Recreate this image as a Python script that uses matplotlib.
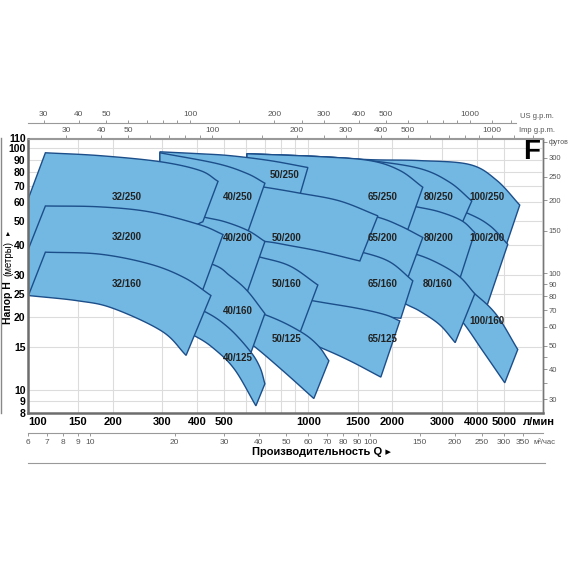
import numpy as np
import matplotlib
matplotlib.use("Agg")
import matplotlib.pyplot as plt
from matplotlib.ticker import NullLocator, NullFormatter
from matplotlib.lines import Line2D

plt.rcParams['font.family'] = ['Liberation Sans Narrow', 'Liberation Sans', 'DejaVu Sans']

# pump fields: top = max impeller, bottom = min impeller, points (Q l/min, H m)
t100_250 = [(604, 95.1), (1100, 92.5), (1660, 89.9), (2504, 89.1), (3777, 85.8), (4716, 73.8), (5699, 58.3)]
b100_250 = [(604, 67.2), (1802, 64.1), (2719, 61.2), (3685, 52.6), (4453, 46.6), (5079, 39.3)]
t100_200 = [(1194, 67.2), (2504, 64.1), (3685, 54.1), (4453, 47.9), (5164, 40.1)]
b100_200 = [(1194, 33.2), (2951, 28.8), (3936, 24.3), (4345, 22.2)]
t100_160 = [(2504, 34.2), (3204, 29.9), (3936, 25.0), (4716, 20.4), (5606, 14.7)]
b100_160 = [(2504, 26.3), (2951, 23.9), (3536, 19.3), (4204, 14.5), (5037, 10.7)]

t80_250 = [(604, 95.1), (1100, 92.5), (1660, 89.1), (2504, 82.6), (3204, 72.4), (3840, 60.6)]
b80_250 = [(604, 67.2), (1408, 58.3), (2443, 54.6), (2951, 52.6), (3536, 48.8)]
t80_200 = [(933, 65.9), (1802, 61.2), (2443, 57.3), (2951, 54.6), (3536, 50.2), (3936, 44.9)]
b80_200 = [(933, 42.0), (1802, 38.2), (2403, 34.8), (2951, 31.7), (3478, 28.8)]
t80_160 = [(933, 42.0), (1802, 39.6), (2423, 36.5), (2951, 33.2), (3478, 29.4), (3936, 25.0)]
b80_160 = [(933, 30.2), (1802, 26.3), (2213, 22.8), (2504, 21.2), (2951, 18.6), (3350, 15.7)]

t65_250 = [(604, 95.1), (1100, 92.5), (1660, 89.1), (2124, 81.1), (2566, 69.1)]
b65_250 = [(604, 58.3), (933, 54.6), (1802, 50.2), (2268, 46.1)]
t65_200 = [(604, 67.2), (1194, 58.3), (1758, 52.1), (2124, 47.9), (2566, 42.8)]
b65_200 = [(604, 38.2), (1194, 35.8), (1802, 34.2), (2268, 29.1)]
t65_160 = [(604, 42.8), (1194, 39.6), (1554, 37.2), (1956, 33.9), (2364, 28.3)]
b65_160 = [(604, 23.9), (1039, 22.2), (1660, 20.4), (2142, 19.8)]
t65_125 = [(604, 26.3), (1039, 23.4), (1492, 21.8), (1878, 20.5), (2124, 19.3)]
b65_125 = [(604, 19.4), (792, 17.5), (1118, 14.9), (1408, 13.2), (1817, 11.3)]

t50_250 = [(295, 96.9), (410, 95.1), (525, 93.4), (729, 89.1), (997, 83.4)]
b50_250 = [(295, 73.8), (700, 67.2), (933, 64.1)]
t50_200 = [(320, 77.4), (525, 72.4), (700, 69.1), (933, 65.3), (1297, 60.6), (1773, 52.6)]
b50_200 = [(320, 43.6), (525, 42.0), (700, 41.2), (860, 39.6), (1100, 37.5), (1529, 34.2)]
t50_160 = [(348, 42.0), (525, 38.2), (672, 35.5), (860, 32.6), (1082, 27.2)]
b50_160 = [(348, 26.3), (700, 19.8), (933, 17.2)]
t50_125 = [(410, 25.0), (700, 20.5), (933, 17.5), (1082, 15.3), (1185, 13.2)]
b50_125 = [(410, 18.9), (525, 17.7), (634, 15.3), (812, 12.0), (1047, 9.21)]

t40_250 = [(295, 96.0), (472, 86.6), (604, 78.8), (700, 71.8)]
b40_250 = [(295, 54.6), (420, 50.7), (504, 48.3), (609, 45.3)]
t40_200 = [(295, 57.3), (420, 52.1), (504, 49.7), (609, 45.7), (700, 41.2)]
b40_200 = [(295, 35.5), (452, 32.3), (525, 28.5), (604, 25.3)]
t40_160 = [(295, 37.5), (452, 33.2), (525, 29.7), (604, 25.8), (700, 20.7)]
b40_160 = [(295, 23.9), (420, 20.5), (525, 17.3), (619, 13.9)]
t40_125 = [(295, 25.0), (420, 21.3), (516, 18.2), (619, 14.5), (672, 12.4), (700, 10.6)]
b40_125 = [(295, 19.4), (394, 16.7), (464, 14.7), (547, 12.1), (650, 8.59)]

t32_250 = [(115, 96.0), (180, 93.4), (295, 88.2), (410, 81.1), (476, 73.1)]
b32_250 = [(82.5, 34.2), (100, 34.2), (180, 44.0), (272, 47.9), (378, 47.9), (420, 49.7)]
t32_200 = [(115, 57.8), (180, 57.3), (272, 54.6), (410, 48.3), (496, 44.0)]
b32_200 = [(82.5, 21.8), (100, 24.6), (115, 29.4), (180, 33.9), (272, 31.7), (362, 28.0), (420, 26.0)]
t32_160 = [(115, 37.2), (180, 36.5), (272, 33.2), (362, 29.1), (449, 24.6)]
b32_160 = [(100, 24.6), (150, 23.4), (200, 21.8), (300, 17.5), (366, 13.9)]

# label positions (Q, H)
lab_pos = {
    "32/250": (225, 62.9), "32/200": (225, 42.8), "32/160": (225, 27.5),
    "40/250": (561, 62.9), "40/200": (561, 42.4), "40/160": (561, 21.2), "40/125": (561, 13.6),
    "50/250": (825, 77.4), "50/200": (839, 42.4), "50/160": (839, 27.5), "50/125": (839, 16.3),
    "65/250": (1847, 62.9), "65/200": (1847, 42.4), "65/160": (1847, 27.5), "65/125": (1847, 16.3),
    "80/250": (2927, 62.9), "80/200": (2927, 42.4), "80/160": (2900, 27.5),
    "100/250": (4345, 62.9), "100/200": (4345, 42.4), "100/160": (4345, 19.3),
}

order = [
    ("100/250", t100_250, b100_250), ("100/200", t100_200, b100_200), ("100/160", t100_160, b100_160),
    ("80/250", t80_250, b80_250), ("80/200", t80_200, b80_200), ("80/160", t80_160, b80_160),
    ("65/250", t65_250, b65_250), ("65/200", t65_200, b65_200), ("65/160", t65_160, b65_160), ("65/125", t65_125, b65_125),
    ("50/250", t50_250, b50_250), ("50/200", t50_200, b50_200), ("50/160", t50_160, b50_160), ("50/125", t50_125, b50_125),
    ("40/250", t40_250, b40_250), ("40/200", t40_200, b40_200), ("40/160", t40_160, b40_160), ("40/125", t40_125, b40_125),
    ("32/250", t32_250, b32_250), ("32/200", t32_200, b32_200), ("32/160", t32_160, b32_160),
]

x_ticks = [100, 150, 200, 300, 400, 500, 1000, 1500, 2000, 3000, 4000, 5000]
x_grid = [150, 200, 300, 400, 500, 600, 700, 800, 900, 1000, 1500, 2000, 3000, 4000, 5000]
y_ticks = [8, 9, 10, 15, 20, 25, 30, 40, 50, 60, 70, 80, 90, 100, 110]
y_grid = [9, 10, 15, 20, 25, 30, 40, 50, 60, 70, 80, 90, 100]
m3_ticks = [6, 7, 8, 9, 10, 20, 30, 40, 50, 60, 70, 80, 90, 100, 150, 200, 250, 300, 350]
gpm_major = [30, 40, 50, 100, 200, 300, 400, 500, 1000]
gpm_minor = [60, 70, 80, 90, 150, 250, 600, 700, 800, 900, 1200, 1400]
ft_major = [30, 40, 50, 60, 70, 80, 90, 100, 150, 200, 250, 300, 350]
ft_labels = ["30", "40", "50", "60", "70", "80", "90", "100", "150", "200", "250", "300", "футов"]
ft_minor = [35, 45]

FILL = '#72b8e2'
EDGE = '#1c4e8a'


def smooth(pts, n=16):
    p = np.log10(np.asarray(pts, float))
    if len(p) < 3:
        return 10 ** p
    ext = np.vstack([2 * p[0] - p[1], p, 2 * p[-1] - p[-2]])
    t = np.linspace(0, 1, n, endpoint=False)[:, None]
    out = []
    for i in range(len(p) - 1):
        p0, p1, p2, p3 = ext[i], ext[i + 1], ext[i + 2], ext[i + 3]
        seg = 0.5 * (2 * p1 + (-p0 + p2) * t + (2 * p0 - 5 * p1 + 4 * p2 - p3) * t ** 2
                     + (-p0 + 3 * p1 - 3 * p2 + p3) * t ** 3)
        out.append(seg)
    out.append(p[-1][None, :])
    return 10 ** np.vstack(out)


W = 570.0
fig = plt.figure(figsize=(5.7, 5.7), dpi=100)
ax = fig.add_axes([28.4 / W, (W - 413.3) / W, 514.6 / W, 274.8 / W])
ax.set_xscale('log')
ax.set_yscale('log')
ax.set_xlim(100, 6900)
ax.set_ylim(8, 110)

for q in x_grid:
    ax.axvline(q, color='#dcdcdc', lw=0.8, zorder=0.5)
for h in y_grid:
    ax.axhline(h, color='#dcdcdc', lw=0.8, zorder=0.5)

for z, (name, top, bot) in enumerate(order):
    tp = smooth(top)
    bt = smooth(bot)
    poly = np.vstack([tp, bt[::-1]])
    ax.fill(poly[:, 0], poly[:, 1], facecolor=FILL, edgecolor=EDGE, lw=1.0, zorder=2 + z * 0.01)

for name, (q, h) in lab_pos.items():
    ax.text(q, h, name, ha='center', va='center', fontsize=7, fontweight='bold', color='#222222', zorder=5)

ax.text(0.977, 0.95, "F", transform=ax.transAxes, fontsize=20, fontweight='bold',
        family=['Liberation Sans', 'DejaVu Sans'], ha='center', va='center', zorder=5)

# main axes ticks
ax.xaxis.set_minor_locator(NullLocator())
ax.yaxis.set_minor_locator(NullLocator())
ax.set_xticks(x_ticks, labels=[str(v) for v in x_ticks])
ax.set_yticks(y_ticks, labels=[str(v) for v in y_ticks])
ax.tick_params(axis='both', length=0)
ax.tick_params(axis='x', pad=3, labelsize=8)
ax.tick_params(axis='y', pad=2, labelsize=7.5)
for lab in ax.get_xticklabels() + ax.get_yticklabels():
    lab.set_fontweight('bold')
ax.get_xticklabels()[0].set_horizontalalignment('left')

ax.spines['left'].set(color='#6d6d6d', lw=1.8)
ax.spines['bottom'].set(color='#6d6d6d', lw=1.8)
ax.spines['top'].set(color='#999999', lw=0.8)
ax.spines['right'].set(color='#777777', lw=1.0)

# m3/h axis below
m3 = ax.secondary_xaxis(-0.0717, functions=(lambda q: q / 16.6667, lambda v: v * 16.6667))
m3.xaxis.set_minor_locator(NullLocator())
m3.set_xticks(m3_ticks, labels=[str(v) for v in m3_ticks])
m3.tick_params(direction='out', length=2.5, width=0.6, color='#888888', labelsize=6, labelcolor='#555555', pad=2)
for sp in m3.spines.values():
    sp.set(color='#999999', lw=0.8)

# US gpm axis on top
us = ax.secondary_xaxis(1.0564, functions=(lambda q: q * 0.264172, lambda g: g / 0.264172))
us.set_xticks(gpm_major, labels=[str(v) for v in gpm_major])
us.set_xticks(gpm_minor, minor=True)
us.xaxis.set_minor_formatter(NullFormatter())
us.tick_params(which='both', direction='out', length=2.5, width=0.6, color='#888888', labelsize=6,
               labelcolor='#555555', pad=1)
for sp in us.spines.values():
    sp.set_visible(False)
ax.plot([0, (516 - 28.4) / 514.6], [1.0564, 1.0564], transform=ax.transAxes, clip_on=False,
        color='#999999', lw=0.8)

# Imp gpm axis (top spine)
imp = ax.secondary_xaxis('top', functions=(lambda q: q * 0.219969, lambda g: g / 0.219969))
imp.set_xticks(gpm_major, labels=[str(v) for v in gpm_major])
imp.set_xticks(gpm_minor, minor=True)
imp.xaxis.set_minor_formatter(NullFormatter())
imp.tick_params(which='both', direction='out', length=2.5, width=0.6, color='#888888', labelsize=6,
                labelcolor='#555555', pad=1)
for sp in imp.spines.values():
    sp.set(color='#999999', lw=0.8)

# feet axis on right
ft = ax.secondary_yaxis('right', functions=(lambda h: h * 3.28084, lambda f: f / 3.28084))
ft.set_yticks(ft_major, labels=ft_labels)
ft.set_yticks(ft_minor, minor=True)
ft.yaxis.set_minor_formatter(NullFormatter())
ft.tick_params(which='both', direction='out', length=3, width=0.6, color='#888888', labelsize=5.5,
               labelcolor='#555555', pad=1)
for sp in ft.spines.values():
    sp.set(color='#777777', lw=1.0)
for lab in ft.get_yticklabels():
    if lab.get_text() == "футов":
        lab.set_fontsize(5)

# axis titles and side texts
fig.text(520 / W, 1 - 116 / W, "US g.p.m.", fontsize=5.5, color='#555555', ha='left', va='center')
fig.text(519 / W, 1 - 130 / W, "Imp g.p.m.", fontsize=5.5, color='#555555', ha='left', va='center')
fig.text(539 / W, 1 - 422 / W, "л/мин", fontsize=8, fontweight='bold', ha='center', va='center')
fig.text(533 / W, 1 - 442 / W, "м³/час", fontsize=5.5, color='#555555', ha='left', va='center')
fig.text(321 / W, 1 - 452 / W, "Производительность Q ▸", fontsize=8, fontweight='bold', ha='center', va='center')
fig.text(8 / W, 1 - 303 / W, "Напор H", fontsize=7.5, fontweight='bold', rotation=90, ha='center', va='center')
fig.text(8 / W, 1 - 258 / W, "(метры)", fontsize=7, rotation=90, ha='center', va='center')
fig.text(8 / W, 1 - 233 / W, "▸", fontsize=6, rotation=90, ha='center', va='center', family=['DejaVu Sans'])

fig.add_artist(Line2D([1.0 / W, 1.0 / W], [1 - 138 / W, 1 - 413 / W], color='#888888', lw=1.0))
fig.add_artist(Line2D([28 / W, 545 / W], [1 - 463 / W, 1 - 463 / W], color='#999999', lw=0.8))

fig.savefig("out.png", dpi=100)
